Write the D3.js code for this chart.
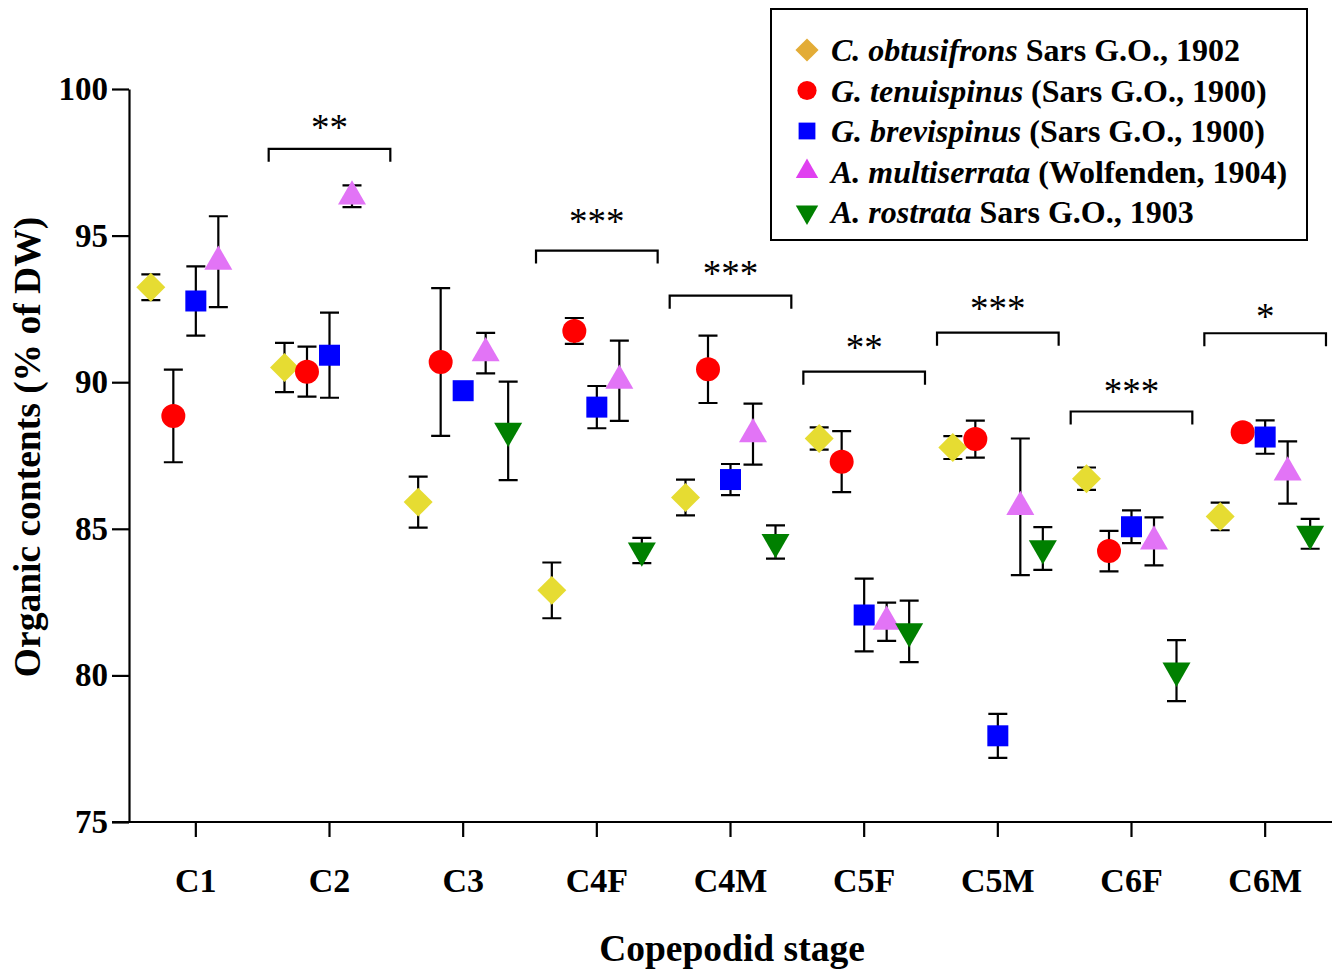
<!DOCTYPE html>
<html>
<head>
<meta charset="utf-8">
<script src="https://cdn.jsdelivr.net/npm/d3@7"></script>
<style>
  body { margin: 0; background: #fff; }
  text { font-family: "Liberation Serif", "Times New Roman", serif; }
</style>
</head>
<body>
<script>
// copepodid stages on the x axis
const stages = ["C1", "C2", "C3", "C4F", "C4M", "C5F", "C5M", "C6F", "C6M"];
const yTicks = [75, 80, 85, 90, 95, 100];

// organic contents (% of DW), mean and SD per stage
const obtusifronsMean = [93.24, 90.5, 85.91, 82.9, 86.07, 88.08, 87.77, 86.71, 85.42];
const obtusifronsSd = [0.44, 0.84, 0.87, 0.95, 0.61, 0.38, 0.39, 0.38, 0.47];
const tenuispinusMean = [88.85, 90.36, 90.69, 91.75, 90.44, 87.29, 88.06, 84.24, 88.29];
const tenuispinusSd = [1.58, 0.85, 2.52, 0.44, 1.15, 1.04, 0.63, 0.69, 0.2];
const brevispinusMean = [92.77, 90.92, 89.71, 89.15, 86.68, 82.06, 77.94, 85.07, 88.13];
const brevispinusSd = [1.18, 1.45, 0.2, 0.72, 0.53, 1.24, 0.75, 0.56, 0.57];
const multiserrataMean = [94.11, 96.34, 90.99, 90.05, 88.23, 81.83, 85.75, 84.57, 86.92];
const multiserrataSd = [1.55, 0.37, 0.69, 1.37, 1.04, 0.65, 2.33, 0.82, 1.06];
const rostrataMean = [null, null, 88.34, 84.26, 84.55, 81.5, 84.33, 80.16, 84.83];
const rostrataSd = [null, null, 1.68, 0.43, 0.57, 1.05, 0.73, 1.04, 0.51];

// significance brackets: stage, bracket level, label level, label
const sigStages = ["C2", "C4F", "C4M", "C5F", "C5M", "C6F", "C6M"];
const sigLevels = [97.96, 94.49, 92.95, 90.36, 91.69, 89.0, 91.67];
const sigLabelLevels = [98.76, 95.55, 93.8, 91.28, 92.61, 89.78, 92.31];
const sigLabels = ["**", "***", "***", "**", "***", "***", "*"];

const legendItalic = ["C. obtusifrons", "G. tenuispinus", "G. brevispinus", "A. multiserrata", "A. rostrata"];
const legendRest = [" Sars G.O., 1902", " (Sars G.O., 1900)", " (Sars G.O., 1900)", " (Wolfenden, 1904)", " Sars G.O., 1903"];

const series = [
  { key: "obt", mean: obtusifronsMean, sd: obtusifronsSd, shape: "diamond", color: "#e6dc32", legendColor: "#e3ac36" },
  { key: "ten", mean: tenuispinusMean, sd: tenuispinusSd, shape: "circle", color: "#ff0000", legendColor: "#ff0000" },
  { key: "bre", mean: brevispinusMean, sd: brevispinusSd, shape: "square", color: "#0000ff", legendColor: "#0000ff" },
  { key: "mul", mean: multiserrataMean, sd: multiserrataSd, shape: "up", color: "#e274f6", legendColor: "#e040f0" },
  { key: "ros", mean: rostrataMean, sd: rostrataSd, shape: "down", color: "#008000", legendColor: "#008000" },
];

const width = 1344;
const height = 973;

const svg = d3.select("body").append("svg")
  .attr("width", width)
  .attr("height", height);

const x = d3.scaleBand().domain(stages).range([129, 1332]).paddingInner(0).paddingOuter(0);
const offset = d3.scalePoint().domain(series.map(s => s.key)).range([-45, 45]);
const y = d3.scaleLinear().domain([75, 100]).range([822, 89]);
const cx = (stage) => x(stage) + x.bandwidth() / 2;

function symbolPath(shape, scale) {
  const k = scale || 1;
  if (shape === "diamond") return d3.symbol(d3.symbolSquare, 420 * k * k)();
  if (shape === "circle") return d3.symbol(d3.symbolCircle, 452 * k * k)();
  if (shape === "square") return d3.symbol(d3.symbolSquare, 441 * k * k)();
  return d3.symbol(d3.symbolTriangle, 340 * k * k)();
}
function symbolRotate(shape) {
  if (shape === "diamond") return 45;
  if (shape === "down") return 180;
  return 0;
}

// y axis
const yAxis = svg.append("g")
  .attr("transform", "translate(129,0)")
  .call(d3.axisLeft(y).tickValues(yTicks).tickSize(17).tickSizeOuter(0).tickPadding(4));
yAxis.select(".domain").attr("stroke-width", 2.2);
yAxis.selectAll(".tick line").attr("stroke-width", 2.2);
yAxis.selectAll(".tick text")
  .attr("font-family", "Liberation Serif")
  .attr("font-size", 33)
  .attr("font-weight", "bold")
  .attr("fill", "#000");

// x axis
const xAxis = svg.append("g")
  .attr("transform", "translate(0,822)")
  .call(d3.axisBottom(x).tickSize(15).tickSizeOuter(0).tickPadding(31));
xAxis.select(".domain").attr("d", `M${129 - 17},0H${x.range()[1]}`).attr("stroke-width", 2.2);
xAxis.selectAll(".tick line").attr("stroke-width", 2.2);
xAxis.selectAll(".tick text")
  .attr("font-family", "Liberation Serif")
  .attr("font-size", 34)
  .attr("font-weight", "bold")
  .attr("fill", "#000");

// axis titles
svg.append("text")
  .attr("transform", `translate(40,447) rotate(-90)`)
  .attr("text-anchor", "middle")
  .attr("font-size", 37.5)
  .attr("font-weight", "bold")
  .text("Organic contents (% of DW)");

svg.append("text")
  .attr("x", 732)
  .attr("y", 961)
  .attr("text-anchor", "middle")
  .attr("font-size", 37.5)
  .attr("font-weight", "bold")
  .text("Copepodid stage");

// significance brackets
const halfSpan = x.bandwidth() * 0.455;
const brackets = svg.append("g");
sigStages.forEach((stage, i) => {
  const c = cx(stage);
  const by = y(sigLevels[i]);
  brackets.append("path")
    .attr("d", `M${c - halfSpan},${by + 13}V${by}H${c + halfSpan}V${by + 13}`)
    .attr("fill", "none")
    .attr("stroke", "#000")
    .attr("stroke-width", 2.2);
  brackets.append("text")
    .attr("x", c)
    .attr("y", y(sigLabelLevels[i]) + 15)
    .attr("text-anchor", "middle")
    .attr("font-size", 37)
    .text(sigLabels[i]);
});

// error bars then markers
const capHalf = 9.5;
series.forEach(s => {
  const g = svg.append("g");
  const pts = stages.map((stage, i) => ({ stage, m: s.mean[i], sd: s.sd[i] })).filter(d => d.m != null);
  pts.forEach(d => {
    const px = cx(d.stage) + offset(s.key);
    const y0 = y(d.m - d.sd);
    const y1 = y(d.m + d.sd);
    g.append("path")
      .attr("d", `M${px},${y0}V${y1}M${px - capHalf},${y1}H${px + capHalf}M${px - capHalf},${y0}H${px + capHalf}`)
      .attr("stroke", "#000")
      .attr("stroke-width", 2.2)
      .attr("fill", "none");
  });
});
series.forEach(s => {
  const pts = stages.map((stage, i) => ({ stage, m: s.mean[i] })).filter(d => d.m != null);
  svg.append("g").selectAll("path")
    .data(pts)
    .join("path")
    .attr("d", symbolPath(s.shape))
    .attr("transform", d => `translate(${cx(d.stage) + offset(s.key)},${y(d.m)}) rotate(${symbolRotate(s.shape)})`)
    .attr("fill", s.color);
});

// legend
const legend = svg.append("g").attr("transform", "translate(771,9)");
legend.append("rect")
  .attr("width", 536)
  .attr("height", 231)
  .attr("fill", "#fff")
  .attr("stroke", "#000")
  .attr("stroke-width", 2);
series.forEach((s, i) => {
  const ry = 41 + i * 40.5;
  legend.append("path")
    .attr("d", symbolPath(s.shape, 0.8))
    .attr("transform", `translate(36,${ry}) rotate(${symbolRotate(s.shape)})`)
    .attr("fill", s.legendColor);
  const t = legend.append("text")
    .attr("x", 60)
    .attr("y", ry + 11)
    .attr("font-size", 32)
    .attr("font-weight", "bold");
  t.append("tspan").attr("font-style", "italic").text(legendItalic[i]);
  t.append("tspan").text(legendRest[i]);
});
</script>
</body>
</html>
